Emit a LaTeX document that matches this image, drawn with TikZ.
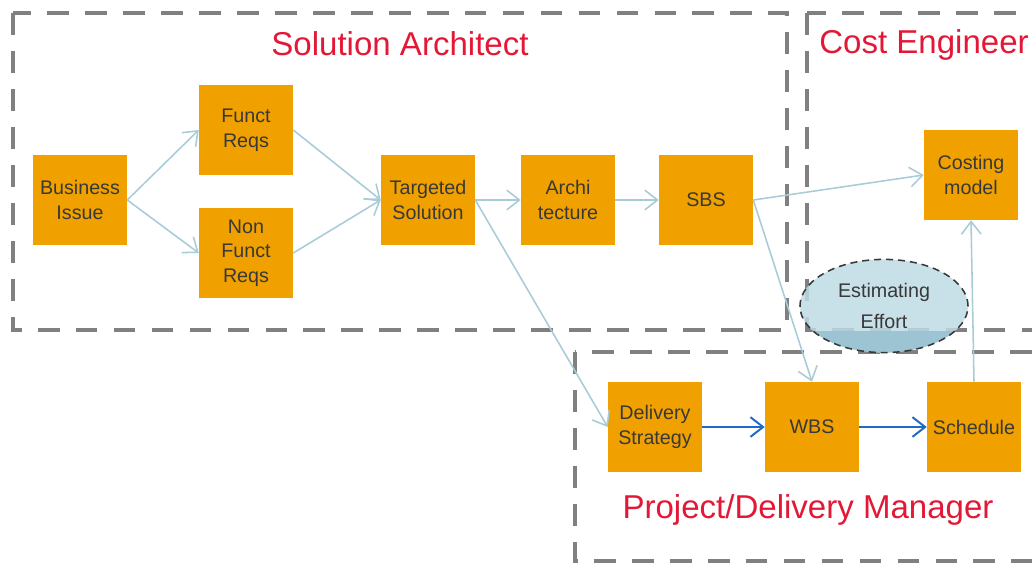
\documentclass[tikz,border=0pt]{standalone}
\usepackage{fontspec}
\setmainfont{Liberation Sans}
\usetikzlibrary{calc}
\usetikzlibrary{arrows.meta}
\usetikzlibrary{shapes.geometric}

\definecolor{taskorange}{RGB}{240,161,0}
\definecolor{rolered}{RGB}{227,24,55}
\definecolor{framegray}{RGB}{128,128,128}
\definecolor{linkblue}{RGB}{168,203,216}
\definecolor{flowblue}{RGB}{30,106,196}
\definecolor{effortlight}{RGB}{190,218,227}
\definecolor{effortdark}{RGB}{150,192,207}
\definecolor{tasktext}{RGB}{56,56,56}

\tikzset{
  task/.style={fill=taskorange,text=tasktext,inner sep=0pt,align=center,
    minimum width=2.35cm,minimum height=2.25cm,font=\fontsize{14}{17.5}\selectfont},
  role/.style={text=rolered,inner sep=0pt,font=\fontsize{23.5}{28}\selectfont},
  rolebox/.style={draw=framegray,line width=3.5pt,dash pattern=on 15.5pt off 11.5pt},
  link/.style={draw=linkblue,line width=1.1pt,-{Straight Barb[length=9pt,width=14pt]}},
  flow/.style={draw=flowblue,line width=1.4pt,-{Straight Barb[length=9pt,width=14pt]}}
}

\begin{document}
\begin{tikzpicture}[x=0.025cm,y=-0.025cm]
  % Boundary
  \path[use as bounding box] (0,0) rectangle (1032,564);
  \clip (0,0) rectangle (1032,564);
  % Role frames
  \draw[rolebox] (13,13) rectangle (787,330);
  \draw[rolebox] (807,13) rectangle (1050,330);
  \draw[rolebox] (575,352) rectangle (1050,561);
  \node[role] (solarch) at (400,44) {Solution Architect};
  \node[role,anchor=west] (costeng) at (819,45) {Cost Engineer};
  \node[role] (pdm) at (808,510) {Project/Delivery Manager};
  % Estimating effort
  \coordinate (cut) at (884,331);
  \node[ellipse,draw=tasktext,line width=1.1pt,dash pattern=on 5pt off 3.5pt,
    fill=effortlight,fill opacity=0.85,text opacity=1,text=tasktext,
    minimum width=4.2cm,minimum height=2.33cm,align=center,
    font=\fontsize{14}{22.7}\selectfont,
    path picture={\fill[effortdark] (path picture bounding box.west |- cut)
      rectangle (path picture bounding box.south east);}]
    (effort) at (884,306) {Estimating\\Effort};
  % Tasks
  \node[task] (issue) at (80,200) {Business\\Issue};
  \node[task] (funct) at (246,130) {Funct\\Reqs};
  \node[task] (nonfunct) at (246,253) {Non\\Funct\\Reqs};
  \node[task] (target) at (428,200) {Targeted\\Solution};
  \node[task] (archi) at (568,200) {Archi\\tecture};
  \node[task] (sbs) at (706,200) {SBS};
  \node[task] (costing) at (971,175) {Costing\\model};
  \node[task] (delivery) at (655,427) {Delivery\\Strategy};
  \node[task] (wbs) at (812,427) {WBS};
  \node[task] (schedule) at (974,427) {Schedule};
  % Links
  \draw[link] (issue.east) -- (funct.west);
  \draw[link] (issue.east) -- (nonfunct.west);
  \draw[link] (funct.east) -- (target.west);
  \draw[link] (nonfunct.east) -- (target.west);
  \draw[link] (target.east) -- (archi.west);
  \draw[link] (archi.east) -- (sbs.west);
  \draw[link] (sbs.east) -- (costing.west);
  \draw[link] (sbs.east) -- (wbs.north);
  \draw[link] (target.east) -- (delivery.west);
  \draw[link] (schedule.north) -- (costing.south);
  \draw[flow] (delivery) -- (wbs);
  \draw[flow] (wbs) -- (schedule);
\end{tikzpicture}
\end{document}
